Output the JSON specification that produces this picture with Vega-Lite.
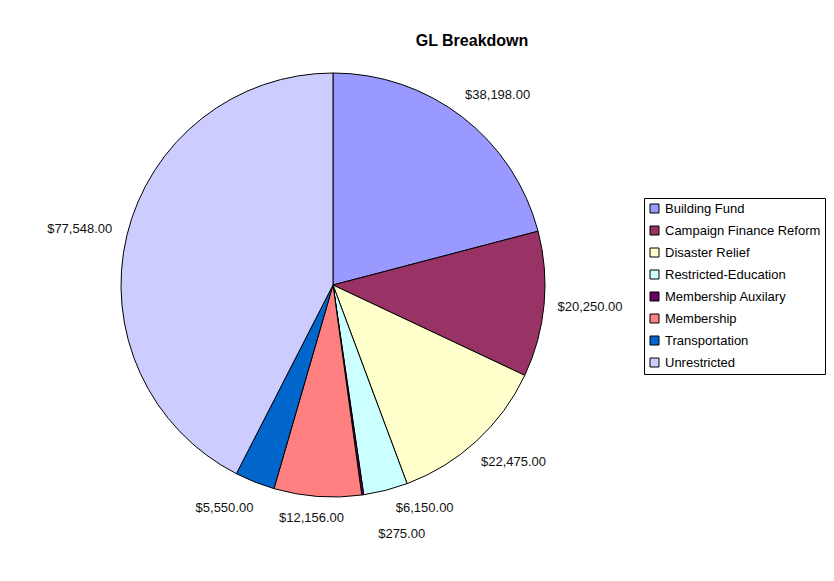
{
  "$schema": "https://vega.github.io/schema/vega-lite/v6.json",
  "autosize": {"type": "none"},
  "padding": {"left": 0, "top": 0, "right": 168, "bottom": 11},
  "width": 666,
  "height": 570,
  "background": "white",
  "title": {
    "text": "GL Breakdown",
    "orient": "top",
    "anchor": "middle",
    "frame": "group",
    "offset": 0,
    "baseline": "middle",
    "dx": 139,
    "dy": 57,
    "font": "Liberation Sans",
    "fontSize": 16,
    "fontWeight": "bold",
    "color": "#000000"
  },
  "data": {
    "values": [
      {"idx": 1, "category": "Building Fund", "amount": 38198},
      {"idx": 2, "category": "Campaign Finance Reform", "amount": 20250},
      {"idx": 3, "category": "Disaster Relief", "amount": 22475},
      {"idx": 4, "category": "Restricted-Education", "amount": 6150},
      {"idx": 5, "category": "Membership Auxilary", "amount": 275},
      {"idx": 6, "category": "Membership", "amount": 12156},
      {"idx": 7, "category": "Transportation", "amount": 5550},
      {"idx": 8, "category": "Unrestricted", "amount": 77548}
    ]
  },
  "encoding": {
    "theta": {"field": "amount", "type": "quantitative", "stack": true},
    "order": {"field": "idx", "type": "quantitative"}
  },
  "layer": [
    {
      "mark": {"type": "arc", "outerRadius": 212, "stroke": "#000000", "strokeWidth": 1},
      "encoding": {
        "color": {
          "field": "category",
          "type": "nominal",
          "scale": {
            "domain": ["Building Fund", "Campaign Finance Reform", "Disaster Relief", "Restricted-Education", "Membership Auxilary", "Membership", "Transportation", "Unrestricted"],
            "range": ["#9999FF", "#993366", "#FFFFCC", "#CCFFFF", "#660066", "#FF8080", "#0066CC", "#CCCCFF"]
          },
          "legend": {
            "title": null,
            "orient": "none",
            "legendX": 644,
            "legendY": 198,
            "strokeColor": "#000000",
            "fillColor": "#FFFFFF",
            "padding": 4,
            "symbolType": "square",
            "symbolSize": 81,
            "symbolStrokeColor": "#000000",
            "symbolStrokeWidth": 1,
            "symbolOpacity": 1,
            "labelFont": "Liberation Sans",
            "labelFontSize": 13,
            "labelColor": "#000000",
            "labelOffset": 4,
            "labelLimit": 300,
            "rowPadding": 8
          }
        }
      }
    },
    {
      "mark": {"type": "text", "radius": 240, "dx": 18, "font": "Liberation Sans", "fontSize": 13, "color": "#111111"},
      "encoding": {
        "text": {
          "condition": {"test": "datum.idx <= 3", "field": "amount", "type": "quantitative", "format": "$,.2f"},
          "value": ""
        }
      }
    },
    {
      "mark": {"type": "text", "radius": 240, "dx": -20, "font": "Liberation Sans", "fontSize": 13, "color": "#111111"},
      "encoding": {
        "text": {
          "condition": {"test": "datum.idx >= 7", "field": "amount", "type": "quantitative", "format": "$,.2f"},
          "value": ""
        }
      }
    },
    {
      "mark": {"type": "text", "radius": 240, "dx": -4, "dy": -6, "font": "Liberation Sans", "fontSize": 13, "color": "#111111"},
      "encoding": {
        "text": {
          "condition": {"test": "datum.idx == 6", "field": "amount", "type": "quantitative", "format": "$,.2f"},
          "value": ""
        }
      }
    },
    {
      "mark": {"type": "text", "radius": 240, "dx": 32, "dy": -9, "font": "Liberation Sans", "fontSize": 13, "color": "#111111"},
      "encoding": {
        "text": {
          "condition": {"test": "datum.idx == 4", "field": "amount", "type": "quantitative", "format": "$,.2f"},
          "value": ""
        }
      }
    },
    {
      "mark": {"type": "text", "radius": 240, "dx": 35, "dy": 11, "font": "Liberation Sans", "fontSize": 13, "color": "#111111"},
      "encoding": {
        "text": {
          "condition": {"test": "datum.idx == 5", "field": "amount", "type": "quantitative", "format": "$,.2f"},
          "value": ""
        }
      }
    }
  ],
  "config": {"view": {"stroke": null}}
}
